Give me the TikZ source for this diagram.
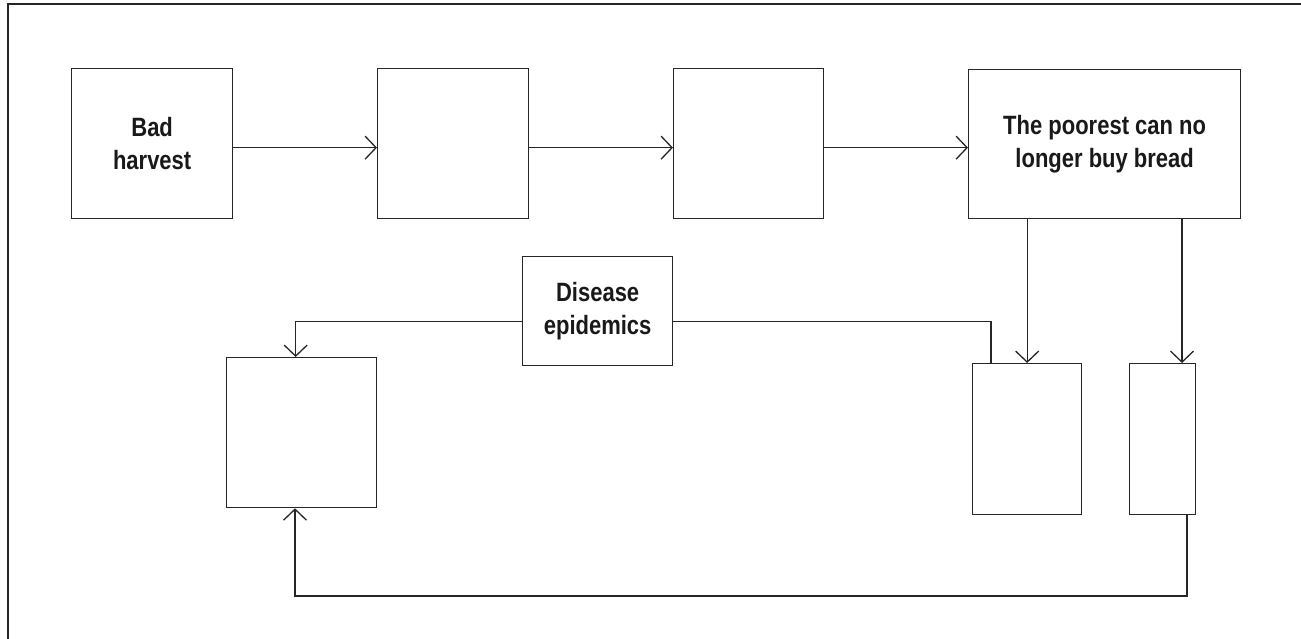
\documentclass[tikz,border=0pt]{standalone}
\usepackage{fontspec}
\setmainfont{Liberation Sans}[FakeStretch=0.83]
\usetikzlibrary{arrows.meta}
\begin{document}
\begin{tikzpicture}[x=1pt,y=-1pt,
  box/.style={draw=black!85,line width=1.3pt,inner sep=0pt,anchor=north west,align=center,
    font=\fontsize{26.5}{33}\selectfont\bfseries,text=black!90},
  conn/.style={draw=black!85,line width=1.3pt},
  arr/.style={conn,-{Straight Barb[length=11pt,width=23pt,line width=1.3pt]}}]
\useasboundingbox (0,0) rectangle (1301,639);
\draw[conn] (8,639) -- (8,4) -- (1301,4);
\node[box,minimum width=161pt,minimum height=150pt] (bad) at (71,68) {Bad\\harvest};
\node[box,minimum width=151pt,minimum height=150pt] (b2) at (377,68) {};
\node[box,minimum width=150pt,minimum height=150pt] (b3) at (673,68) {};
\node[box,minimum width=272pt,minimum height=149pt] (poor) at (968,69) {The poorest can no\\longer buy bread};
\node[box,minimum width=150pt,minimum height=109pt] (dis) at (522,256) {Disease\\epidemics};
\node[box,minimum width=150pt,minimum height=150pt] (lb) at (226,357) {};
\node[box,minimum width=109pt,minimum height=151pt] (r1) at (972,363) {};
\node[box,minimum width=66pt,minimum height=151pt] (r2) at (1129,363) {};
\coordinate (bl) at (295,596);
\coordinate (r2in) at ([xshift=53pt]r2.north west);
\coordinate (r2out) at ([xshift=58pt]r2.south west);
\draw[arr] ([yshift=-4pt]bad.east) -- ([yshift=-4pt]b2.west);
\draw[arr] ([yshift=-4pt]b2.east) -- ([yshift=-4pt]b3.west);
\draw[arr] ([yshift=-4pt]b3.east) -- ([yshift=-4pt]poor.west |- b3.east);
\draw[arr] (poor.south -| r1.north) -- (r1.north);
\draw[arr] (poor.south -| r2in) -- (r2in);
\draw[arr] ([yshift=-10pt]dis.west) -| ([xshift=-6pt]lb.north);
\draw[conn] ([yshift=-10pt]dis.east) -| ([xshift=19pt]r1.north west);
\draw[arr] (r2out) |- (bl) -- (bl |- lb.south);
\end{tikzpicture}
\end{document}
